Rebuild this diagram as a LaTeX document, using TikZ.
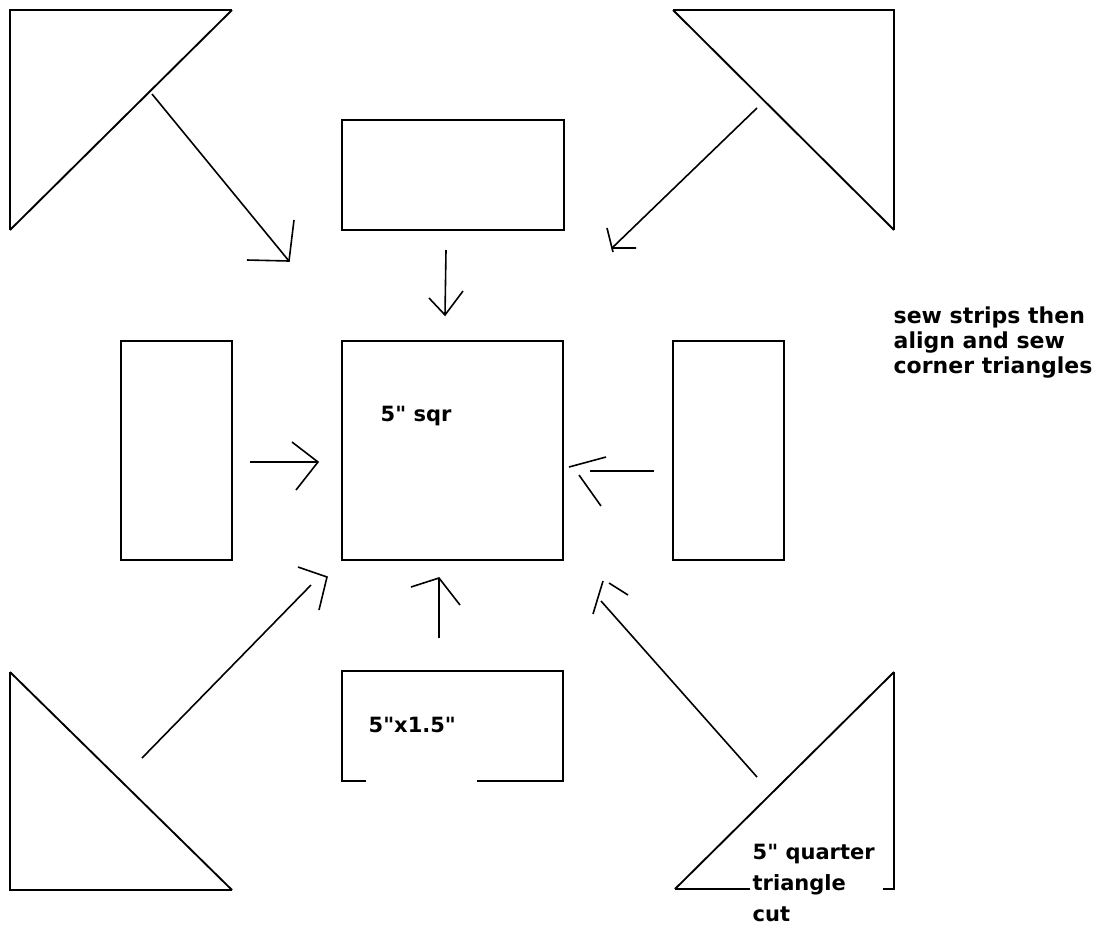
\documentclass[tikz,border=0pt]{standalone}
\usepackage{fontspec}
\setmainfont{DejaVu Sans}[Ligatures=TeXOff]

\tikzset{every picture/.style={line width=1pt}}
\tikzset{
  piece/.style={line width=1.8pt},
  cutedge/.style={line width=1.4pt},
  guide/.style={line width=1.2pt},
  label/.style={font=\bfseries\fontsize{15.75}{18.75}\selectfont, inner sep=0pt, anchor=base west, align=left},
}

\begin{document}
\begin{tikzpicture}[x=0.75pt,y=0.75pt,yscale=-1,xscale=1]
	\useasboundingbox (0,0) rectangle (1095,926);

	%Shape: Triangle [top left]
	\draw [piece] (232,10) -- (10,10) -- (10,230) ;
	\draw [cutedge] (10,230) -- (232,10) ;
	%Shape: Triangle [top right]
	\draw [piece] (673,10) -- (894,10) -- (894,230) ;
	\draw [cutedge] (894,230) -- (673,10) ;
	%Shape: Triangle [bottom left]
	\draw [piece] (10,672) -- (10,890) -- (232,890) ;
	\draw [cutedge] (232,890) -- (10,672) ;
	%Shape: Triangle [bottom right], bottom edge broken by the text
	\draw [piece] (750,889) -- (675,889) ;
	\draw [cutedge] (675,889) -- (894,672) ;
	\draw [piece] (894,672) -- (894,889) -- (883,889) ;

	%Shape: Rectangle [strips and square]
	\draw [piece] (342,120) rectangle (564,230) ;
	\draw [piece] (121,341) rectangle (232,560) ;
	\draw [piece] (673,341) rectangle (784,560) ;
	\draw [piece] (342,341) rectangle (563,560) ;
	\draw [piece] (366,781) -- (342,781) -- (342,671) -- (563,671) -- (563,781) -- (477,781) ;

	%Straight Lines [arrow ends]
	\coordinate (tlTail) at (152,94) ;
	\coordinate (tlTip) at (289,261) ;
	\coordinate (trTail) at (757,108) ;
	\coordinate (trTip) at (612,248) ;
	\coordinate (topTail) at (446,250) ;
	\coordinate (topTip) at (445,315) ;
	\coordinate (leftTail) at (250,462) ;
	\coordinate (leftTip) at (318,462) ;
	\coordinate (rightTail) at (654,471) ;
	\coordinate (rightTip) at (590,471) ;
	\coordinate (botTail) at (439,638) ;
	\coordinate (botTip) at (439,578) ;
	\coordinate (blTail) at (142,758) ;
	\coordinate (blTip) at (311,585) ;
	\coordinate (brTail) at (757,777) ;
	\coordinate (brTip) at (601,601) ;

	%Straight Lines [hand drawn arrows]
	\draw [guide] (tlTail) -- (tlTip) ;
	\draw [guide] (247,260) -- (tlTip) -- (294,220) ;
	\draw [guide] (trTail) -- (trTip) ;
	\draw [guide] (636,248) -- (trTip) (607,228) -- (613,252) ;
	\draw [guide] (topTail) -- (topTip) ;
	\draw [guide] (429,298) -- (topTip) -- (463,291) ;
	\draw [guide] (leftTail) -- (leftTip) ;
	\draw [guide] (292,442) -- (leftTip) -- (296,490) ;
	\draw [guide] (rightTail) -- (rightTip) ;
	\draw [guide] (606,457) -- (569,467) (579,475) -- (601,506) ;
	\draw [guide] (botTail) -- (botTip) ;
	\draw [guide] (411,587) -- (botTip) -- (460,605) ;
	\draw [guide] (blTail) -- (blTip) ;
	\draw [guide] (298,567) -- (327,577) -- (319,610) ;
	\draw [guide] (brTail) -- (brTip) ;
	\draw [guide] (603,581) -- (593,614) (609,583) -- (628,595) ;

	% Text Node
	\node [label] (sqrLabel) at (380,421) {5" sqr} ;
	% Text Node
	\node [label] (stripLabel) at (368,732) {5"x1.5"} ;
	% Text Node
	\node [label, font=\bfseries\fontsize{15.75}{23.25}\selectfont] (triLabel) at (752,921) {5" quarter\\triangle\\cut} ;
	% Text Node
	\node [label, font=\bfseries\fontsize{16.5}{18.75}\selectfont] (sewNote) at (893,373) {sew strips then\\align and sew\\corner triangles} ;

\end{tikzpicture}
\end{document}
